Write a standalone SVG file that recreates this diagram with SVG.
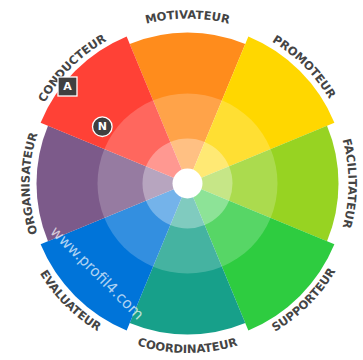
<svg xmlns="http://www.w3.org/2000/svg" xmlns:xlink="http://www.w3.org/1999/xlink" width="363" height="360" viewBox="0 0 363 360">
<style>
.lbl{font-family:"DejaVu Sans","Liberation Sans",sans-serif;font-weight:bold;font-size:11.5px;fill:#444;}
.ring{fill:#fff;}
.badge{fill:#404040;stroke:#fff;stroke-width:1.3;}
.bt{font-family:"DejaVu Sans","Liberation Sans",sans-serif;font-weight:bold;font-size:11px;fill:#fff;text-anchor:middle;dominant-baseline:central;}
.wm{font-family:"DejaVu Sans","Liberation Sans",sans-serif;font-size:15px;fill:#fff;fill-opacity:0.7;text-anchor:middle;dominant-baseline:central;}
</style>
<defs>
<path id="pMot" d="M61.10,77.44 A165,165 0 0 1 313.90,77.44"/>
<path id="pPro" d="M173.12,19.13 A165,165 0 0 1 351.87,197.88"/>
<path id="pCon" d="M24.13,197.79 A164,164 0 0 1 201.79,20.13"/>
<path id="pFac" d="M290.99,60.17 A161,161 0 0 1 290.99,306.83"/>
<path id="pOrg" d="M85.94,304.54 A158,158 0 0 1 85.94,62.47"/>
<path id="pCoo" d="M57.66,292.45 A169.5,169.5 0 0 0 317.34,292.45"/>
<path id="pEva" d="M15.16,168.42 A173,173 0 0 0 202.58,355.84"/>
<path id="pSup" d="M172.51,354.85 A172,172 0 0 0 358.85,168.51"/>
</defs>
<g id="motivateur">
<path d="M187.5,183.5 L129.72,43.99 A151,151 0 0 1 245.28,43.99 Z" fill="#FF8C1C"/>
<text class="lbl"><textPath xlink:href="#pMot" href="#pMot" startOffset="50%" text-anchor="middle">MOTIVATEUR</textPath></text>
</g>
<g id="promoteur">
<path d="M187.5,183.5 L248.35,36.60 A159,159 0 0 1 334.40,122.65 Z" fill="#FFD700"/>
<text class="lbl"><textPath xlink:href="#pPro" href="#pPro" startOffset="50%" text-anchor="middle">PROMOTEUR</textPath></text>
</g>
<g id="facilitateur">
<path d="M187.5,183.5 L327.01,125.72 A151,151 0 0 1 327.01,241.28 Z" fill="#97D322"/>
<text class="lbl"><textPath xlink:href="#pFac" href="#pFac" startOffset="50%" text-anchor="middle">FACILITATEUR</textPath></text>
</g>
<g id="supporteur">
<path d="M187.5,183.5 L334.40,244.35 A159,159 0 0 1 248.35,330.40 Z" fill="#2ECC40"/>
<text class="lbl"><textPath xlink:href="#pSup" href="#pSup" startOffset="50%" text-anchor="middle">SUPPORTEUR</textPath></text>
</g>
<g id="coordinateur">
<path d="M187.5,183.5 L245.28,323.01 A151,151 0 0 1 129.72,323.01 Z" fill="#17A08A"/>
<text class="lbl"><textPath xlink:href="#pCoo" href="#pCoo" startOffset="50%" text-anchor="middle">COORDINATEUR</textPath></text>
</g>
<g id="evaluateur">
<path d="M187.5,183.5 L126.65,330.40 A159,159 0 0 1 40.60,244.35 Z" fill="#0074D9"/>
<text class="lbl"><textPath xlink:href="#pEva" href="#pEva" startOffset="50%" text-anchor="middle">EVALUATEUR</textPath></text>
</g>
<g id="organisateur">
<path d="M187.5,183.5 L47.99,241.28 A151,151 0 0 1 47.99,125.72 Z" fill="#7C5A8A"/>
<text class="lbl"><textPath xlink:href="#pOrg" href="#pOrg" startOffset="50%" text-anchor="middle">ORGANISATEUR</textPath></text>
</g>
<g id="conducteur">
<path d="M187.5,183.5 L40.60,122.65 A159,159 0 0 1 126.65,36.60 Z" fill="#FF4136"/>
<text class="lbl"><textPath xlink:href="#pCon" href="#pCon" startOffset="50%" text-anchor="middle">CONDUCTEUR</textPath></text>
</g>
<g id="rings">
<circle class="ring" cx="187.5" cy="183.5" r="90" fill-opacity="0.2"/>
<circle class="ring" cx="187.5" cy="183.5" r="45" fill-opacity="0.32"/>
<circle class="ring" cx="187.5" cy="183.5" r="15"/>
</g>
<g id="watermark">
<text class="wm" transform="translate(97,273) rotate(45)">www.profil4.com</text>
</g>
<g id="badge-a">
<rect class="badge" x="58" y="77" width="19" height="19"/>
<text class="bt" x="67.5" y="86.5">A</text>
</g>
<g id="badge-n">
<circle class="badge" cx="102.3" cy="126.7" r="9.8"/>
<text class="bt" x="102.3" y="126.7">N</text>
</g>
</svg>
